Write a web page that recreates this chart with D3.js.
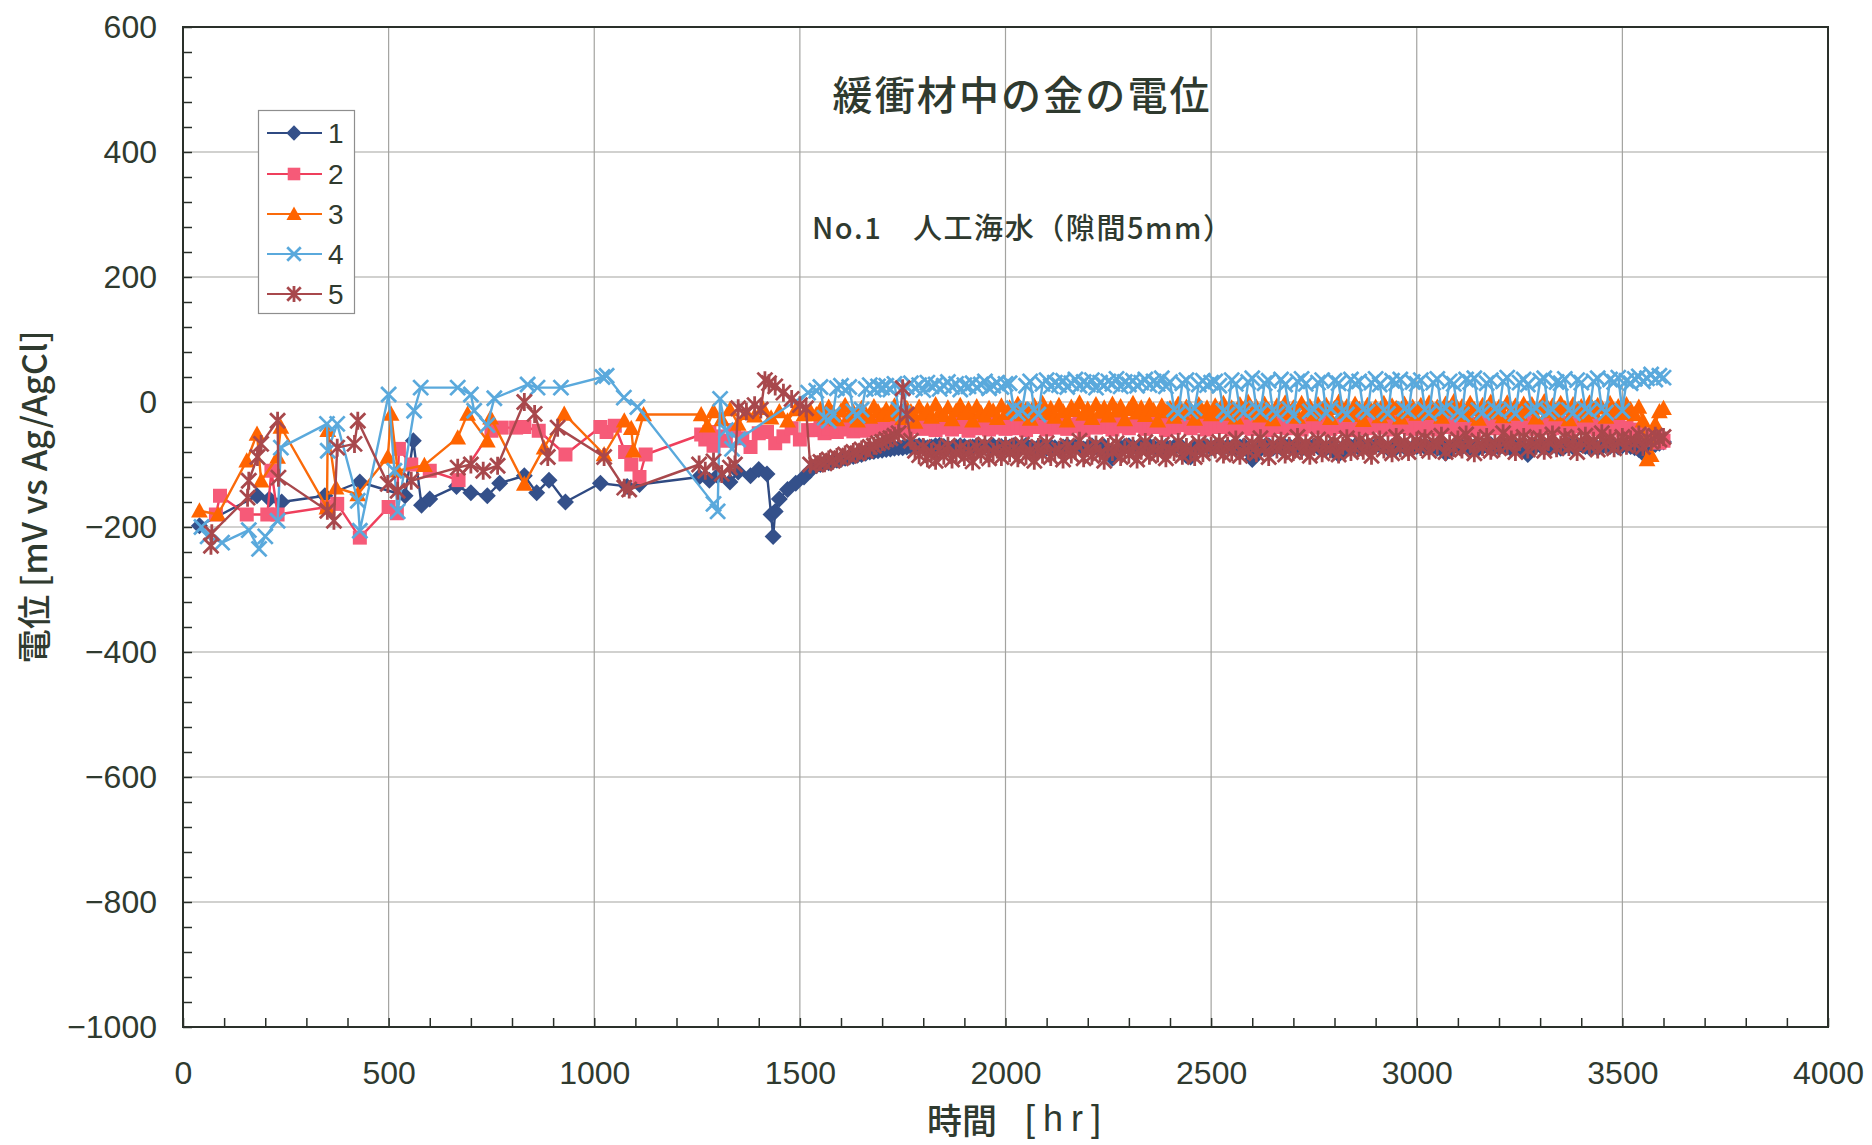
<!DOCTYPE html>
<html>
<head>
<meta charset="utf-8">
<script src="https://cdn.jsdelivr.net/npm/d3@7/dist/d3.min.js"></script>
<style>
  html, body { margin: 0; padding: 0; background: #ffffff; }
  svg { display: block; }
</style>
</head>
<body>
<svg id="chart" width="1872" height="1145"></svg>
<script>
// ---------------- DATA ----------------
const seriesNames = ["1", "2", "3", "4", "5"];
const xTickLabels = [0, 500, 1000, 1500, 2000, 2500, 3000, 3500, 4000];
const yTickLabels = [-1000, -800, -600, -400, -200, 0, 200, 400, 600];

const chartTitle = "緩衝材中の金の電位";
const chartSubtitle = "No.1\u3000人工海水（隙間5mm）";
const xAxisTitleJa = "時間";
const xAxisTitleUnit = "[hr]";
const yAxisTitle = "電位 [mV vs Ag/AgCl]";

// early (sparse) measurements, per series
const hoursEarly1 = [40,180,210,240,345,430,540,560,580,600,665,700,740,770,830,860,890,930,1015,1080,1110,1255,1280,1300,1330,1350,1380,1400,1420,1430,1435,1440,1450,1470,1490,1510,1525];
const mvEarly1    = [-198,-150,-155,-160,-150,-128,-150,-62,-165,-155,-135,-145,-150,-130,-118,-145,-125,-160,-130,-135,-132,-120,-125,-118,-128,-112,-118,-108,-115,-180,-215,-175,-155,-140,-130,-120,-110];

const hoursEarly2 = [80,90,155,205,215,230,350,375,430,500,520,525,555,600,670,750,775,810,830,865,930,1015,1030,1050,1075,1090,1110,1125,1260,1270,1280,1290,1300,1320,1340,1360,1380,1400,1420,1440,1460,1480,1500,1520];
const mvEarly2    = [-180,-150,-180,-180,-110,-180,-168,-163,-217,-168,-178,-75,-100,-110,-125,-46,-41,-41,-40,-46,-84,-40,-48,-38,-80,-100,-120,-84,-52,-60,-48,-70,-55,-62,-45,-58,-72,-50,-48,-66,-55,-42,-60,-45];

const hoursEarly3 = [40,85,155,180,190,230,238,350,352,372,425,498,506,522,587,668,692,740,748,830,878,927,1024,1073,1090,1095,1120,1260,1275,1290,1310,1330,1350,1370,1390,1410,1430,1450,1470,1490,1510,1525];
const mvEarly3    = [-174,-180,-94,-51,-126,-88,-40,-169,-45,-137,-148,-88,-19,-110,-101,-57,-19,-62,-25,-131,-73,-19,-84,-30,-42,-78,-20,-20,-38,-15,-28,-12,-35,-18,-22,-10,-25,-15,-30,-12,-20,-14];

const hoursEarly4 = [45,60,95,160,185,200,230,238,350,352,375,425,430,500,514,522,562,578,668,700,708,740,757,838,862,919,1020,1030,1072,1105,1290,1300,1306,1320,1335,1350,1520];
const mvEarly4    = [-200,-215,-225,-205,-235,-215,-190,-73,-35,-78,-35,-158,-206,12,-110,-175,-14,23,23,12,-14,-37,6,28,23,23,40,42,7,-8,-163,-175,5,-45,-75,-60,15];

const hoursEarly5 = [68,70,157,160,181,190,230,232,351,367,375,417,425,498,522,555,668,700,730,765,830,855,887,911,1024,1073,1085,1255,1270,1290,1310,1330,1342,1350,1370,1390,1405,1415,1425,1440,1460,1480,1500,1515,1525];
const mvEarly5    = [-230,-210,-153,-126,-88,-67,-30,-121,-174,-190,-73,-67,-30,-131,-142,-126,-105,-100,-110,-102,0,-19,-88,-41,-88,-137,-140,-100,-110,-95,-115,-105,-100,-10,-15,-5,-12,35,30,25,15,5,-5,-10,-100];

// later (dense) measurements, common time base
const hoursDense = [
  1540,1550,1560,1570,1580,1590,1600,1610,1620,1630,1640,1650,1660,1670,1680,1690,1700,
  1710,1720,1730,1740,1750,1760,1770,1780,1790,1800,1810,1820,1830,1840,1850,1860,1870,1880,1890,1900,1910,1920,1930,1940,1950,1960,1970,1980,1990,2000,
  2010,2020,2030,2040,2050,2060,2070,2080,2090,2100,2110,2120,2130,2140,2150,2160,2170,2180,2190,2200,2210,2220,2230,2240,2250,
  2260,2270,2280,2290,2300,2310,2320,2330,2340,2350,2360,2370,2380,2390,2400,2410,2420,2430,2440,2450,2460,2470,2480,2490,2500,
  2510,2520,2530,2540,2550,2560,2570,2580,2590,2600,2610,2620,2630,2640,2650,2660,2670,2680,2690,2700,2710,2720,2730,2740,2750,
  2760,2770,2780,2790,2800,2810,2820,2830,2840,2850,2860,2870,2880,2890,2900,2910,2920,2930,2940,2950,2960,2970,2980,2990,3000,
  3010,3020,3030,3040,3050,3060,3070,3080,3090,3100,3110,3120,3130,3140,3150,3160,3170,3180,3190,3200,3210,3220,3230,3240,3250,3260,3270,3280,3290,3300,
  3310,3320,3330,3340,3350,3360,3370,3380,3390,3400,3410,3420,3430,3440,3450,3460,3470,3480,3490,3500,3510,3520,3530,3540,3550,3560,3570,3580,3590,3600];

const mvDense1 = [
  -102,-100,-98,-97,-95,-93,-92,-90,-88,-87,-85,-84,-82,-80,-79,-78,-77,
  -76,-75,-74,-73,-73,-72,-71,-72,-70,-71,-73,-72,-70,-69,-71,-73,-74,-72,-70,-71,-73,-72,-70,-74,-71,-72,-70,-73,-71,-72,
  -72,-70,-74,-71,-69,-73,-75,-72,-70,-74,-71,-73,-76,-72,-70,-74,-72,-71,-75,-73,-70,-72,-74,-71,-78,
  -90,-80,-73,-71,-70,-72,-74,-71,-73,-70,-72,-75,-73,-71,-74,-72,-70,-73,-86,-88,-74,-72,-70,-71,-73,
  -72,-70,-74,-71,-73,-75,-72,-70,-78,-92,-82,-73,-71,-70,-74,-72,-73,-71,-70,-74,-72,-75,-71,-73,-70,
  -72,-76,-74,-71,-80,-84,-73,-71,-72,-70,-74,-72,-71,-73,-70,-69,-72,-74,-71,-73,-70,-72,-75,-73,-71,
  -70,-72,-73,-71,-74,-70,-82,-78,-71,-69,-72,-70,-73,-71,-74,-72,-70,-68,-71,-73,-70,-72,-75,-73,-71,-76,-84,-72,-70,-69,
  -73,-71,-70,-72,-74,-71,-69,-72,-70,-68,-71,-73,-70,-74,-72,-70,-71,-69,-72,-70,-68,-71,-73,-76,-82,-72,-70,-68,-66,-64];

const mvDense2 = [
  -45,-38,-50,-42,-36,-48,-40,-44,-35,-47,-41,-38,-46,-39,-43,-36,-42,
  -38,-44,-34,-41,-37,-46,-33,-40,-36,-43,-35,-39,-45,-34,-41,-37,-44,-33,-40,-38,-46,-35,-42,-36,-39,-44,-34,-41,-37,-43,
  -36,-42,-33,-39,-45,-35,-40,-31,-38,-44,-34,-41,-37,-30,-43,-36,-39,-33,-45,-38,-32,-41,-35,-40,-34,
  -44,-37,-31,-39,-42,-35,-38,-33,-43,-36,-40,-32,-38,-45,-35,-41,-34,-37,-30,-42,-36,-39,-33,-44,-38,
  -35,-40,-32,-38,-44,-34,-41,-36,-30,-43,-37,-39,-33,-45,-35,-40,-31,-38,-42,-34,-37,-44,-33,-39,-36,
  -41,-32,-38,-43,-35,-40,-34,-37,-45,-33,-39,-36,-42,-31,-38,-35,-41,-34,-44,-37,-32,-40,-36,-43,-38,
  -36,-41,-33,-39,-44,-35,-40,-32,-38,-43,-34,-41,-37,-45,-35,-39,-31,-38,-42,-36,-40,-33,-44,-37,-35,-41,-32,-39,-43,-36,
  -38,-34,-42,-37,-33,-40,-45,-35,-39,-36,-41,-34,-38,-44,-37,-40,-35,-42,-39,-46,-41,-44,-50,-47,-55,-52,-60,-58,-65,-62];

const mvDense3 = [
  -20,-12,-25,-8,-18,-28,-14,-5,-22,-16,-30,-10,-19,-24,-7,-15,-21,
  -12,-20,-6,-17,-26,-10,-15,-32,-8,-19,-13,-24,-4,-16,-21,-9,-28,-14,-5,-18,-11,-30,-7,-17,-22,-10,-14,-26,-6,-18,
  -9,-16,-3,-20,-12,-27,-6,-14,-2,-18,-10,-24,-5,-15,-30,-8,-13,-1,-19,-11,-26,-4,-16,-9,-22,
  -3,-14,-7,-28,-12,-2,-17,-9,-21,-5,-13,-30,-6,-15,-10,-24,-3,-18,-8,-12,-27,-4,-16,-9,-20,
  -6,-14,-2,-19,-9,-25,-4,-12,0,-17,-8,-22,-3,-13,-28,-6,-11,-1,-18,-9,-24,-2,-15,-7,-20,
  -4,-12,-5,-26,-10,0,-16,-7,-21,-3,-11,-29,-5,-14,-8,-23,-2,-17,-6,-10,-25,-3,-15,-8,-19,
  -5,-13,-1,-18,-8,-24,-3,-11,1,-16,-7,-21,-2,-12,-27,-5,-10,0,-17,-8,-23,-1,-14,-6,-19,-3,-11,-4,-25,-9,
  1,-15,-6,-20,-2,-10,-28,-4,-13,-7,-22,-1,-16,-5,-9,-24,-2,-14,-7,-18,-4,-12,-20,-8,-30,-92,-85,-35,-15,-10];

const mvDense4 = [
  18,24,-25,-30,-20,22,26,19,24,-15,-22,-12,21,27,20,25,23,
  26,20,29,-12,-18,24,30,22,27,19,31,25,28,21,26,32,24,29,20,27,25,30,23,28,33,22,26,31,24,29,
  30,-10,-18,-14,26,33,-12,-20,29,35,25,31,27,34,24,30,36,26,32,28,35,23,31,27,33,
  29,37,25,32,28,34,26,31,36,27,33,29,38,25,32,-12,-18,30,35,-15,-10,28,34,27,31,
  33,26,-14,-20,35,29,-12,-17,32,38,-10,-16,30,34,-13,-19,36,28,-11,-22,33,37,29,-15,-12,
  31,35,-18,-10,34,30,-14,-20,36,29,33,-12,-16,31,37,28,-13,-19,34,30,36,-11,-15,32,29,
  35,-12,-18,31,37,-14,-10,33,29,-16,-20,36,32,38,-13,-17,30,35,-11,-15,33,39,-12,-19,31,36,28,-14,-10,34,
  38,-16,-12,32,30,37,-13,-18,35,31,-11,-15,33,38,-10,-17,36,32,39,-14,34,30,37,41,33,38,44,36,42,39];

const mvDense5 = [
  -100,-96,-98,-92,-94,-88,-90,-84,-86,-80,-82,-76,-78,-72,-70,-66,-64,
  -60,-58,-54,-50,22,-20,-62,-78,-85,-72,-90,-80,-94,-76,-86,-70,-92,-82,-74,-88,-78,-95,-72,-84,-68,-90,-80,-76,-88,-70,
  -82,-74,-90,-68,-86,-78,-94,-72,-84,-66,-88,-80,-76,-92,-70,-84,-78,-62,-90,-74,-86,-68,-82,-94,-72,
  -80,-66,-88,-76,-84,-70,-92,-78,-64,-86,-74,-82,-68,-90,-76,-80,-64,-86,-72,-78,-88,-66,-82,-74,-70,
  -76,-64,-84,-70,-80,-60,-86,-72,-78,-66,-82,-58,-74,-88,-68,-76,-62,-84,-70,-80,-56,-78,-66,-86,-72,
  -60,-82,-68,-76,-64,-84,-70,-58,-80,-74,-62,-78,-66,-86,-70,-60,-76,-68,-82,-56,-74,-64,-80,-70,-62,
  -72,-58,-78,-64,-70,-54,-80,-66,-74,-60,-76,-52,-68,-82,-62,-72,-56,-78,-66,-74,-50,-70,-60,-80,-64,-56,-76,-62,-70,-58,
  -78,-64,-52,-74,-68,-56,-72,-60,-80,-64,-54,-70,-62,-76,-50,-68,-58,-74,-64,-56,-70,-60,-66,-52,-72,-58,-64,-54,-60,-56];

// ---------------- STYLE ----------------
const seriesStyle = [
  { line: "#2f4a82", fill: "#34508a", marker: "diamond" },
  { line: "#ef3f5c", fill: "#f65a78", marker: "square" },
  { line: "#fa6a0a", fill: "#ff6400", marker: "triangle" },
  { line: "#5aa9dc", fill: "#5aa9dc", marker: "x" },
  { line: "#a8484c", fill: "#a8484c", marker: "star" }
];
const textColor = "#2f3a2f";
const latinFont = "'Liberation Sans', Arial, Helvetica, sans-serif";
const cjkFont = "'Noto Sans CJK JP', 'Noto Sans CJK SC', sans-serif";

// ---------------- BUILD ----------------
const early = [[hoursEarly1, mvEarly1],[hoursEarly2, mvEarly2],[hoursEarly3, mvEarly3],[hoursEarly4, mvEarly4],[hoursEarly5, mvEarly5]];
const dense = [mvDense1, mvDense2, mvDense3, mvDense4, mvDense5];
const series = seriesNames.map((name, i) => {
  const pts = early[i][0].map((h, j) => ({ h: h, v: early[i][1][j] }));
  hoursDense.forEach((h, j) => { if (dense[i][j] !== undefined) pts.push({ h: h, v: dense[i][j] }); });
  return { name: name, pts: pts, style: seriesStyle[i] };
});

const svg = d3.select("#chart");
const plotLeft = 183, plotRight = 1828, plotTop = 27, plotBottom = 1027;
const x = d3.scaleLinear().domain([0, 4000]).range([plotLeft, plotRight]);
const y = d3.scaleLinear().domain([-1000, 600]).range([plotBottom, plotTop]);

svg.append("rect").attr("x", 0).attr("y", 0).attr("width", 1872).attr("height", 1145).attr("fill", "#fff");

// gridlines
const grid = svg.append("g");
grid.selectAll("line.gx").data(xTickLabels.slice(1, -1)).enter().append("line")
  .attr("x1", d => x(d)).attr("x2", d => x(d)).attr("y1", plotTop).attr("y2", plotBottom)
  .attr("stroke", "#a3a3a0").attr("stroke-width", 1.2);
grid.selectAll("line.gy").data(yTickLabels.slice(1, -1)).enter().append("line")
  .attr("x1", plotLeft).attr("x2", plotRight).attr("y1", d => y(d)).attr("y2", d => y(d))
  .attr("stroke", "#a3a3a0").attr("stroke-width", 1.2);

// minor ticks (inward)
const minorY = d3.range(-1000, 601, 40);
const minorX = d3.range(0, 4001, 100);
svg.append("g").attr("transform", `translate(${plotLeft},0)`)
  .call(d3.axisLeft(y).tickValues(minorY).tickSizeInner(-9).tickSizeOuter(0).tickFormat(""))
  .call(g => g.select(".domain").remove())
  .call(g => g.selectAll("line").attr("stroke", "#2a302a").attr("stroke-width", 1.5));
svg.append("g").attr("transform", `translate(0,${plotBottom})`)
  .call(d3.axisBottom(x).tickValues(minorX).tickSizeInner(-9).tickSizeOuter(0).tickFormat(""))
  .call(g => g.select(".domain").remove())
  .call(g => g.selectAll("line").attr("stroke", "#2a302a").attr("stroke-width", 1.5));

// tick labels
svg.append("g").attr("transform", `translate(${plotLeft},0)`)
  .call(d3.axisLeft(y).tickValues(yTickLabels).tickSize(0).tickPadding(26).tickFormat(d3.format("d")))
  .call(g => g.select(".domain").remove())
  .call(g => g.selectAll("text").attr("font-family", latinFont).attr("font-size", 32).attr("fill", textColor));
svg.append("g").attr("transform", `translate(0,${plotBottom})`)
  .call(d3.axisBottom(x).tickValues(xTickLabels).tickSize(0).tickPadding(34).tickFormat(d3.format("d")))
  .call(g => g.select(".domain").remove())
  .call(g => g.selectAll("text").attr("font-family", latinFont).attr("font-size", 32).attr("fill", textColor));

// frame
svg.append("rect").attr("x", plotLeft).attr("y", plotTop).attr("width", plotRight - plotLeft).attr("height", plotBottom - plotTop)
  .attr("fill", "none").attr("stroke", "#2a302a").attr("stroke-width", 2);

// marker paths
function markerPath(type, r) {
  switch (type) {
    case "diamond": return `M0,${-r}L${r},0L0,${r}L${-r},0Z`;
    case "square": return `M${-r},${-r}H${r}V${r}H${-r}Z`;
    case "triangle": return `M0,${-r * 1.05}L${r * 1.05},${r * 0.85}L${-r * 1.05},${r * 0.85}Z`;
    case "x": return `M${-r},${-r}L${r},${r}M${r},${-r}L${-r},${r}`;
    case "star": return `M${-r},${-r}L${r},${r}M${r},${-r}L${-r},${r}M0,${-r * 1.2}L0,${r * 1.2}`;
  }
}
const markerSize = { diamond: 8.5, square: 7, triangle: 8, x: 7.5, star: 7.5 };

function drawMarker(sel, style, scale) {
  const t = style.marker, r = markerSize[t] * (scale || 1);
  const filled = (t === "diamond" || t === "square" || t === "triangle");
  sel.append("path").attr("d", markerPath(t, r))
    .attr("fill", filled ? style.fill : "none")
    .attr("stroke", filled ? "none" : style.fill)
    .attr("stroke-width", filled ? 0 : 2.8);
}

const lineGen = d3.line().x(d => x(d.h)).y(d => y(d.v));

series.forEach(s => {
  const g = svg.append("g");
  g.append("path").datum(s.pts).attr("d", lineGen).attr("fill", "none")
    .attr("stroke", s.style.line).attr("stroke-width", 2.4).attr("stroke-linejoin", "round");
  g.selectAll("g.m").data(s.pts).enter().append("g")
    .attr("transform", d => `translate(${x(d.h)},${y(d.v)})`)
    .each(function () { drawMarker(d3.select(this), s.style, 1); });
});

// titles
svg.append("text").attr("x", 1021).attr("y", 93).attr("text-anchor", "middle").attr("dominant-baseline", "central")
  .attr("font-family", cjkFont).attr("font-size", 40).attr("font-weight", 500).attr("fill", textColor)
  .attr("textLength", 377).attr("lengthAdjust", "spacing").text(chartTitle);
svg.append("text").attr("x", 1022).attr("y", 226).attr("text-anchor", "middle").attr("dominant-baseline", "central")
  .attr("font-family", cjkFont).attr("font-size", 29).attr("font-weight", 500).attr("fill", textColor)
  .attr("textLength", 420).attr("lengthAdjust", "spacing").text(chartSubtitle);

const xt = svg.append("text").attr("x", 927).attr("y", 1118).attr("dominant-baseline", "central").attr("fill", textColor);
xt.append("tspan").attr("font-family", cjkFont).attr("font-size", 35).attr("font-weight", 500).text(xAxisTitleJa);
xt.append("tspan").attr("dx", 28).attr("font-family", latinFont).attr("font-size", 36).attr("letter-spacing", 8).text(xAxisTitleUnit);

svg.append("text").attr("transform", "translate(32,497) rotate(-90)").attr("text-anchor", "middle").attr("dominant-baseline", "central")
  .attr("font-family", cjkFont).attr("font-size", 34).attr("font-weight", 500).attr("fill", textColor)
  .attr("textLength", 333).attr("lengthAdjust", "spacingAndGlyphs").text(yAxisTitle);

// legend
const lg = svg.append("g");
lg.append("rect").attr("x", 258.5).attr("y", 110.5).attr("width", 96).attr("height", 203)
  .attr("fill", "#fff").attr("stroke", "#8e8e8e").attr("stroke-width", 1.2);
const legendY = [133, 174, 214, 254, 294];
series.forEach((s, i) => {
  const row = lg.append("g").attr("transform", `translate(0,${legendY[i]})`);
  row.append("line").attr("x1", 267).attr("x2", 322).attr("y1", 0).attr("y2", 0)
    .attr("stroke", s.style.line).attr("stroke-width", 2.2);
  const m = row.append("g").attr("transform", "translate(294,0)");
  drawMarker(m, s.style, 0.9);
  row.append("text").attr("x", 328).attr("y", 0).attr("dominant-baseline", "central")
    .attr("font-family", latinFont).attr("font-size", 28).attr("fill", textColor).text(s.name);
});
</script>
</body>
</html>
